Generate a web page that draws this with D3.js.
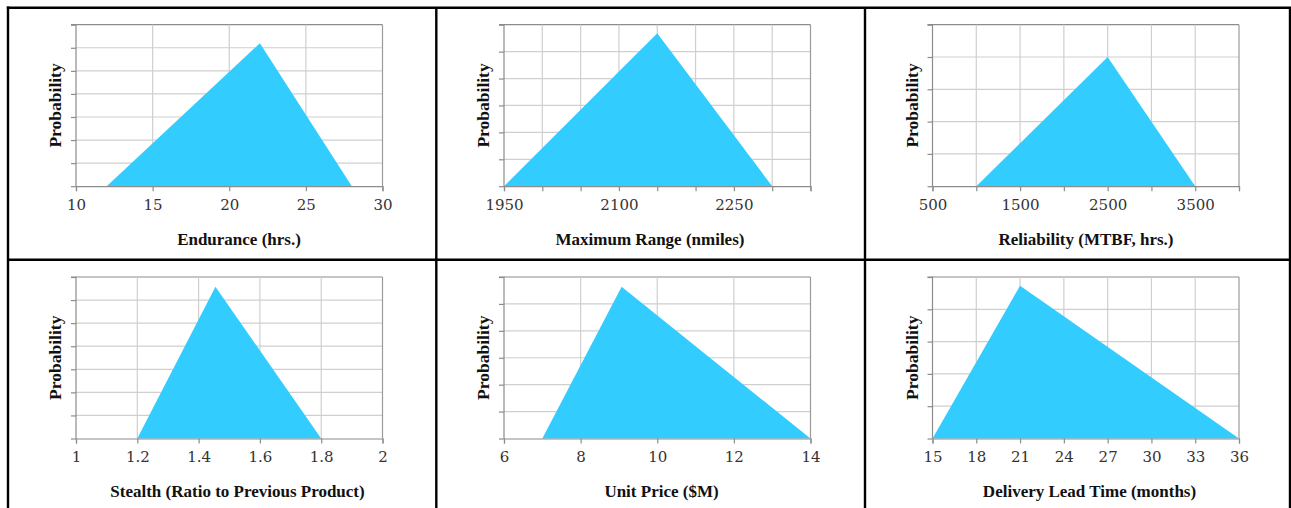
<!DOCTYPE html>
<html><head><meta charset="utf-8">
<script src="https://cdn.jsdelivr.net/npm/d3@7"></script>
<style>body{margin:0;background:#fff}svg{display:block}</style>
</head><body>
<svg id="c" width="1291" height="508"></svg>
<script>
// ---- data ----
const titles = ["Endurance (hrs.)", "Maximum Range (nmiles)", "Reliability (MTBF, hrs.)",
  "Stealth (Ratio to Previous Product)", "Unit Price ($M)", "Delivery Lead Time (months)"];
const yLabel = "Probability";
const xDomains = [[10, 30], [1950, 2350], [500, 4000], [1, 2], [6, 14], [15, 36]];
const xTickValues = [
  [10, 15, 20, 25, 30],
  [1950, 2000, 2050, 2100, 2150, 2200, 2250, 2300, 2350],
  [500, 1000, 1500, 2000, 2500, 3000, 3500, 4000],
  [1, 1.2, 1.4, 1.6, 1.8, 2],
  [6, 8, 10, 12, 14],
  [15, 18, 21, 24, 27, 30, 33, 36]];
const xTickLabels = [
  ["10", "15", "20", "25", "30"],
  ["1950", "", "", "2100", "", "", "2250", "", ""],
  ["500", "", "1500", "", "2500", "", "3500", ""],
  ["1", "1.2", "1.4", "1.6", "1.8", "2"],
  ["6", "8", "10", "12", "14"],
  ["15", "18", "21", "24", "27", "30", "33", "36"]];
const yTickValues = [
  [0, 0.02, 0.04, 0.06, 0.08, 0.10, 0.12, 0.14],
  [0, 0.001, 0.002, 0.003, 0.004, 0.005, 0.006],
  [0, 0.0002, 0.0004, 0.0006, 0.0008, 0.001],
  [0, 0.5, 1.0, 1.5, 2.0, 2.5, 3.0, 3.5],
  [0, 0.05, 0.10, 0.15, 0.20, 0.25, 0.30],
  [0, 0.02, 0.04, 0.06, 0.08, 0.10]];
const seriesX = [
  [12, 22, 28],
  [1950, 2150, 2300],
  [1000, 2500, 3500],
  [1.2, 1.455, 1.8],
  [7, 9.07, 14],
  [15, 21, 36]];
const seriesY = [
  [0, 0.124, 0],
  [0, 0.00568, 0],
  [0, 0.0008, 0],
  [0, 3.29, 0],
  [0, 0.282, 0],
  [0, 0.0946, 0]];

// ---- layout ----
const colLeft = [76, 504, 932.5];
const plotW = 306.5;
const rowTop = [24.7, 277];
const plotH = 161.5;
const titleCx = [239, 650, 1086, 237.5, 661.5, 1089.5];
const fill = "#33CCFF";
const serif = "'DejaVu Serif', serif";
const titleFont = "'Liberation Serif', 'Times New Roman', serif";

const svg = d3.select("#c");

titles.forEach((t, i) => {
  const col = i % 3, row = Math.floor(i / 3);
  const L = colLeft[col], T = rowTop[row];
  const x = d3.scaleLinear().domain(xDomains[i]).range([L, L + plotW]);
  const y = d3.scaleLinear().domain([0, d3.max(yTickValues[i])]).range([T + plotH, T]);
  const g = svg.append("g");

  // horizontal gridlines
  const yt = yTickValues[i];
  g.selectAll(".hg").data(yt.slice(1)).join("line")
    .attr("x1", L).attr("x2", L + plotW)
    .attr("y1", d => y(d)).attr("y2", d => y(d))
    .attr("stroke", (d, k) => k === yt.length - 2 ? "#8c8c8c" : "#cfcfcf")
    .attr("stroke-width", 1.2);
  // vertical gridlines
  const xt = xTickValues[i];
  g.selectAll(".vg").data(xt.slice(1)).join("line")
    .attr("x1", d => x(d)).attr("x2", d => x(d))
    .attr("y1", T).attr("y2", T + plotH)
    .attr("stroke", (d, k) => k === xt.length - 2 ? "#9a9a9a" : "#cfcfcf")
    .attr("stroke-width", 1.2);

  // area
  const pts = seriesX[i].map((v, k) => [v, seriesY[i][k]]);
  g.append("path").datum(pts)
    .attr("d", d3.area().x(d => x(d[0])).y0(y(0)).y1(d => y(d[1])))
    .attr("fill", fill);

  // x axis
  const xa = g.append("g").attr("transform", `translate(0,${T + plotH})`)
    .call(d3.axisBottom(x).tickValues(xt).tickSize(5).tickPadding(8)
      .tickFormat((d, k) => xTickLabels[i][k]));
  xa.select(".domain").attr("stroke", "#8c8c8c").attr("stroke-width", 1.2);
  xa.selectAll(".tick line").attr("stroke", "#8c8c8c").attr("stroke-width", 1.2);
  xa.selectAll(".tick text").attr("fill", "#333")
    .style("font-family", serif).style("font-size", "15px");

  // y axis (ticks only)
  const ya = g.append("g").attr("transform", `translate(${L},0)`)
    .call(d3.axisLeft(y).tickValues(yt).tickSize(5).tickFormat(""));
  ya.select(".domain").attr("stroke", "#8c8c8c").attr("stroke-width", 1.2)
    .attr("d", `M-5,${T}H0V${T + plotH}`);
  ya.selectAll(".tick line").attr("stroke", "#8c8c8c").attr("stroke-width", 1.2);

  // y label
  g.append("text")
    .attr("transform", `translate(${L - 21},${T + plotH / 2}) rotate(-90)`)
    .attr("text-anchor", "middle").attr("dominant-baseline", "central")
    .style("font-family", titleFont).style("font-weight", "bold").style("font-size", "17.5px")
    .attr("fill", "#111").text(yLabel);

  // x title
  g.append("text")
    .attr("x", titleCx[i]).attr("y", T + plotH + 59 - (row ? 1 : 0))
    .attr("text-anchor", "middle")
    .style("font-family", titleFont).style("font-weight", "bold").style("font-size", "17px")
    .attr("fill", "#111").text(t);
});

// panel borders
const borders = [
  [8, 6.6, 8, 508], [436.3, 7, 436.3, 508], [865, 7, 865, 508], [1290, 7, 1290, 508],
  [6.8, 7.8, 1291, 7.8], [8, 259.8, 1291, 259.8]];
svg.selectAll(".border").data(borders).join("line")
  .attr("x1", d => d[0]).attr("y1", d => d[1]).attr("x2", d => d[2]).attr("y2", d => d[3])
  .attr("stroke", "#000").attr("stroke-width", 2.4);
</script>
</body></html>
